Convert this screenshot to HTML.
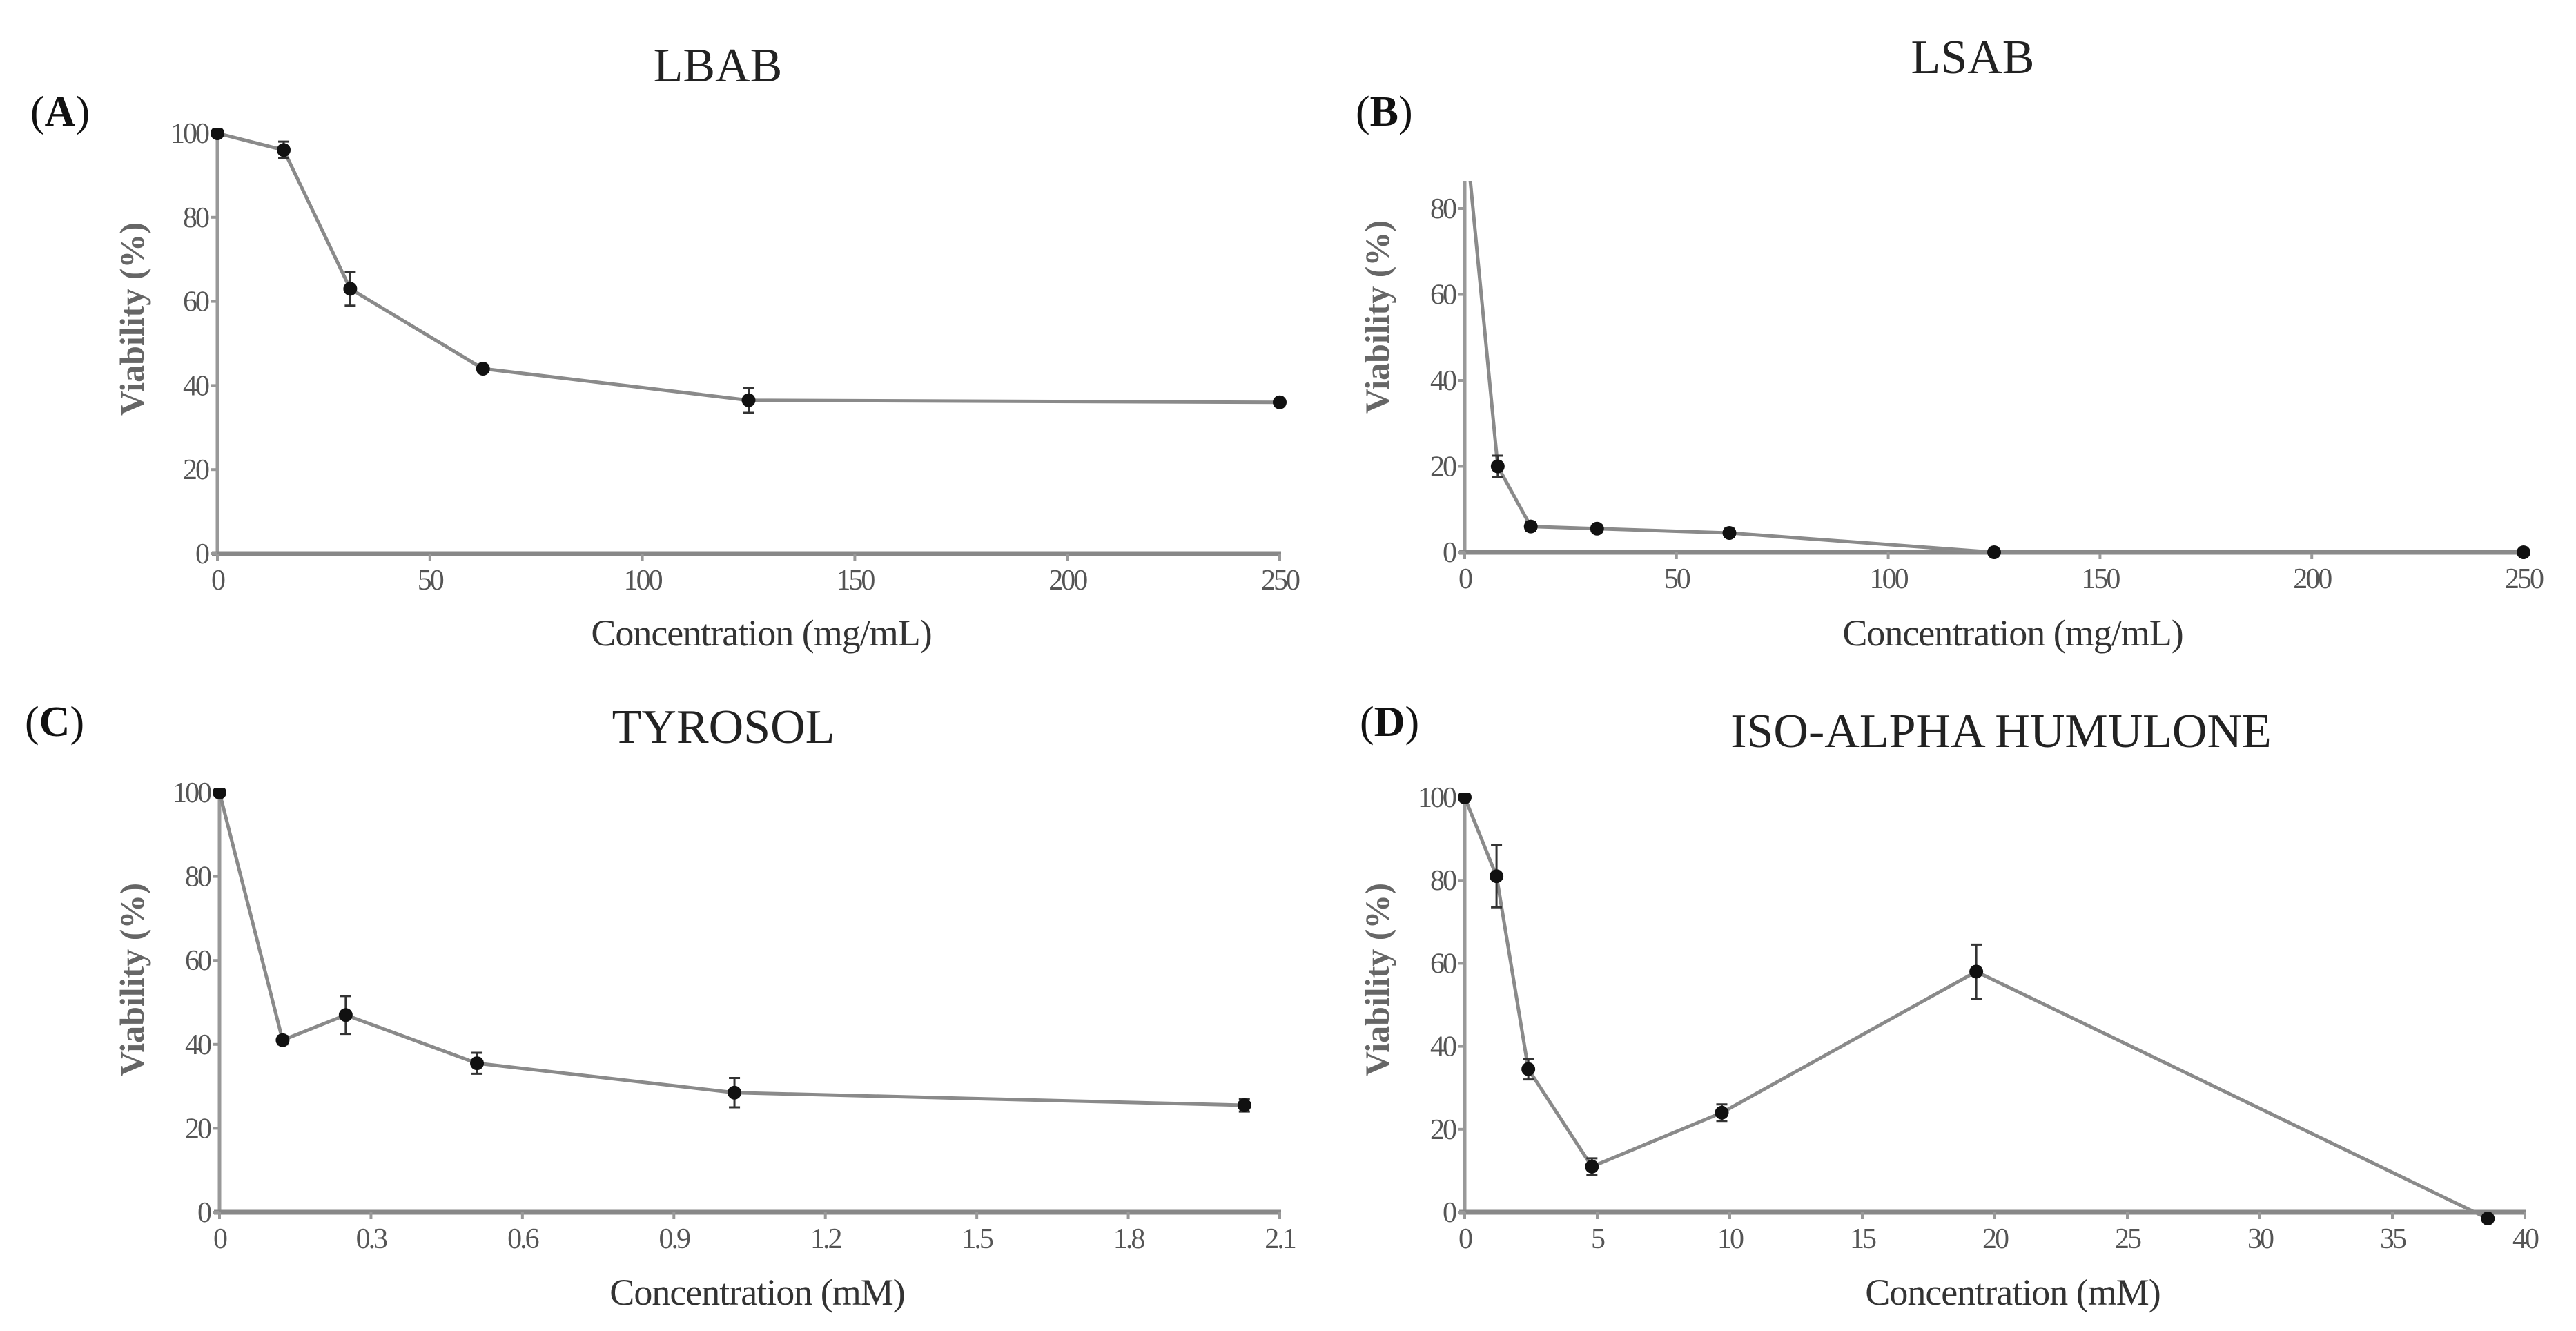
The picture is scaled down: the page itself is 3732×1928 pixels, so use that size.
<!DOCTYPE html>
<html><head><meta charset="utf-8"><style>
html,body{margin:0;padding:0;background:#fff;}
svg{display:block;}
text{font-family:"Liberation Serif",serif;}
</style></head><body>
<svg id="fig" width="3732" height="1928" viewBox="0 0 3732 1928" xmlns="http://www.w3.org/2000/svg"></svg>
<script>
// Panel A: LBAB
const xA = [0, 15.6, 31.25, 62.5, 125, 250];
const yA = [100, 96, 63, 44, 36.5, 36];
const eA = [0, 2, 4, 0.8, 3, 0.5];
const xTicksA = [0, 50, 100, 150, 200, 250];
const yTicksA = [0, 20, 40, 60, 80, 100];
// Panel B: LSAB
const xB = [0, 7.8, 15.6, 31.25, 62.5, 125, 250];
const yB = [100, 20, 6, 5.5, 4.5, 0, 0];
const eB = [0, 2.5, 1, 0.8, 1, 0.5, 0.3];
const xTicksB = [0, 50, 100, 150, 200, 250];
const yTicksB = [0, 20, 40, 60, 80];
// Panel C: TYROSOL
const xC = [0, 0.125, 0.25, 0.51, 1.02, 2.03];
const yC = [100, 41, 47, 35.5, 28.5, 25.5];
const eC = [0, 1, 4.5, 2.5, 3.5, 1.5];
const xTicksC = ["0", "0.3", "0.6", "0.9", "1.2", "1.5", "1.8", "2.1"];
const yTicksC = [0, 20, 40, 60, 80, 100];
// Panel D: ISO-ALPHA HUMULONE
const xD = [0, 1.2, 2.4, 4.8, 9.7, 19.3, 38.6];
const yD = [100, 81, 34.5, 11, 24, 58, -1.5];
const eD = [0, 7.5, 2.5, 2, 2, 6.5, 0.5];
const xTicksD = [0, 5, 10, 15, 20, 25, 30, 35, 40];
const yTicksD = [0, 20, 40, 60, 80, 100];

const NS = "http://www.w3.org/2000/svg";
const svg = document.getElementById("fig");
function mk(tag, attrs, parent, txt) {
  const e = document.createElementNS(NS, tag);
  for (const k in attrs) e.setAttribute(k, attrs[k]);
  if (txt !== undefined) e.textContent = txt;
  (parent || svg).appendChild(e);
  return e;
}

function panel(cfg) {
  const g = mk("g", {});
  
  
  const sx = v => cfg.x0 + (v - cfg.xmin) / (cfg.xmax - cfg.xmin) * (cfg.x1 - cfg.x0);
  const sy = v => cfg.y0 - v / cfg.ymaxRef * (cfg.y0 - cfg.yRefPx);
  const clip = mk("clipPath", {id: cfg.name + "-clip"}, g);
  mk("rect", {x: cfg.x0 - 30, y: cfg.yTop, width: cfg.x1 - cfg.x0 + 60, height: cfg.y0 - cfg.yTop + 40}, clip);
  const ya = mk("line", {x1: cfg.x0, y1: cfg.yTop, x2: cfg.x0, y2: cfg.y0, stroke: "#999", "stroke-width": 5}, g);
  
  
  const xa = mk("line", {x1: cfg.x0 - 8, y1: cfg.y0, x2: cfg.x1 + 2, y2: cfg.y0, stroke: "#888", "stroke-width": 7}, g);
  
  
  cfg.yTicks.forEach(t => {
    const y = sy(t);
    mk("line", {x1: cfg.x0 - 9, y1: y, x2: cfg.x0, y2: y, stroke: "#999", "stroke-width": 4}, g);
    const lb = mk("text", {x: cfg.x0 - 14, y: y + 14, "text-anchor": "end", "font-size": 42, fill: "#555", "letter-spacing": "-3"}, g, String(t));
    
    
  });
  cfg.xTicks.forEach(t => {
    const x = sx(parseFloat(t));
    mk("line", {x1: x, y1: cfg.y0, x2: x, y2: cfg.y0 + 10, stroke: "#999", "stroke-width": 4}, g);
    const lb = mk("text", {x: x, y: cfg.y0 + 52, "text-anchor": "middle", "font-size": 42, fill: "#555", "letter-spacing": "-3"}, g, String(t));
    
    
  });
  const dg = mk("g", {"clip-path": "url(#" + cfg.name + "-clip)"}, g);
  const pts = cfg.xs.map((v, i) => sx(v) + "," + sy(cfg.ys[i])).join(" ");
  const pl = mk("polyline", {points: pts, fill: "none", stroke: "#8a8a8a", "stroke-width": 5}, dg);
  
  
  cfg.xs.forEach((v, i) => {
    const x = sx(v), y = sy(cfg.ys[i]), e = cfg.es[i];
    if (e > 0.6) {
      const yt = sy(cfg.ys[i] + e), yb = sy(cfg.ys[i] - e);
      const eb = mk("path", {d: `M${x},${yt}V${yb}M${x-8},${yt}H${x+8}M${x-8},${yb}H${x+8}`, stroke: "#333", "stroke-width": 3, fill: "none"}, dg);
      
      
    }
    const c = mk("circle", {cx: x, cy: y, r: 10, fill: "#111"}, dg);
    
    
  });
  const tt = mk("text", {x: cfg.titleX, y: cfg.titleY, "text-anchor": "middle", "font-size": 70, fill: "#222"}, g, cfg.title);
  
  
  const pl2 = mk("text", {x: cfg.letterX, y: cfg.letterY, "font-size": 62, fill: "#111"}, g);
  
  
  mk("tspan", {}, pl2, "(");
  mk("tspan", {"font-weight": "bold"}, pl2, cfg.letter);
  mk("tspan", {}, pl2, ")");
  const yl = mk("text", {x: 0, y: 0, "text-anchor": "middle", "font-size": 50, "font-weight": "bold", fill: "#666", transform: `translate(${cfg.ylabX},${cfg.ylabY}) rotate(-90)`}, g, "Viability (%)");
  
  
  const xl = mk("text", {x: cfg.xlabX, y: cfg.xlabY, "text-anchor": "middle", "font-size": 54, fill: "#333", "letter-spacing": "-1"}, g, cfg.xlab);
  
  
}

panel({name: "panel-a-lbab", xs: xA, ys: yA, es: eA, xTicks: xTicksA, yTicks: yTicksA,
  x0: 315, x1: 1854, xmin: 0, xmax: 250, y0: 802, yRefPx: 193, ymaxRef: 100, yTop: 186,
  title: "LBAB", titleX: 1040, titleY: 118, letter: "A", letterX: 44, letterY: 182,
  ylabX: 208, ylabY: 462, xlab: "Concentration (mg/mL)", xlabX: 1103, xlabY: 935});
panel({name: "panel-b-lsab", xs: xB, ys: yB, es: eB, xTicks: xTicksB, yTicks: yTicksB,
  x0: 2122, x1: 3656, xmin: 0, xmax: 250, y0: 800, yRefPx: 302, ymaxRef: 80, yTop: 262,
  title: "LSAB", titleX: 2858, titleY: 106, letter: "B", letterX: 1964, letterY: 182,
  ylabX: 2012, ylabY: 459, xlab: "Concentration (mg/mL)", xlabX: 2916, xlabY: 935});
panel({name: "panel-c-tyrosol", xs: xC, ys: yC, es: eC, xTicks: xTicksC, yTicks: yTicksC,
  x0: 318, x1: 1854, xmin: 0, xmax: 2.1, y0: 1756, yRefPx: 1148, ymaxRef: 100, yTop: 1142,
  title: "TYROSOL", titleX: 1048, titleY: 1076, letter: "C", letterX: 36, letterY: 1066,
  ylabX: 208, ylabY: 1419, xlab: "Concentration (mM)", xlabX: 1097, xlabY: 1890});
panel({name: "panel-d-iso-alpha-humulone", xs: xD, ys: yD, es: eD, xTicks: xTicksD, yTicks: yTicksD,
  x0: 2122, x1: 3658, xmin: 0, xmax: 40, y0: 1756, yRefPx: 1155, ymaxRef: 100, yTop: 1149,
  title: "ISO-ALPHA HUMULONE", titleX: 2899, titleY: 1082, letter: "D", letterX: 1970, letterY: 1066,
  ylabX: 2012, ylabY: 1419, xlab: "Concentration (mM)", xlabX: 2916, xlabY: 1890});
</script>
</body></html>
